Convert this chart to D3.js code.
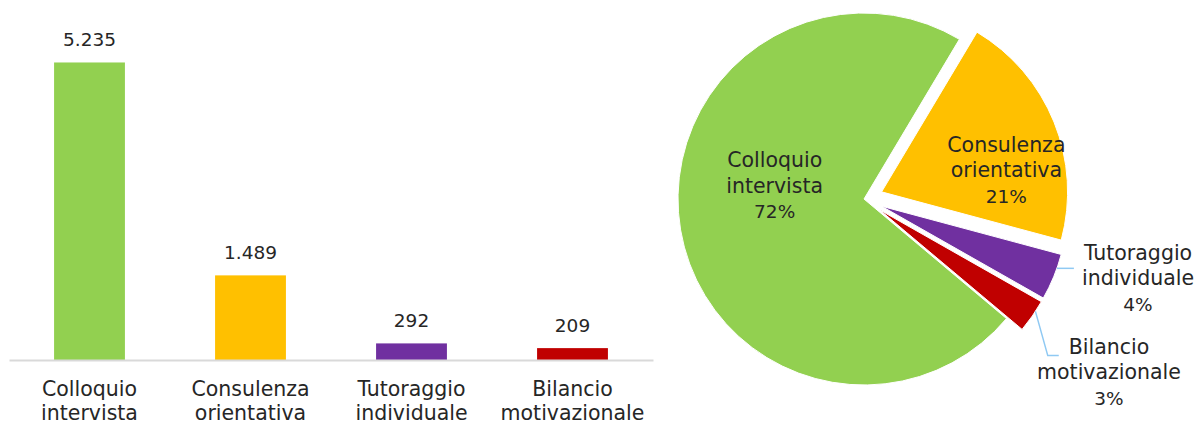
<!DOCTYPE html>
<html lang="it">
<head>
<meta charset="utf-8">
<title>Servizi erogati</title>
<script src="https://cdn.jsdelivr.net/npm/d3@7"></script>
<style>
  html, body { margin: 0; padding: 0; background: #fff; }
  svg { display: block; font-family: 'DejaVu Sans', sans-serif; }
  .lbl { fill: #262626; font-size: 20.5px; }
  .num { fill: #262626; font-size: 18.5px; }
</style>
</head>
<body>
<svg id="chart" width="1195" height="424"></svg>
<script>
// ── Data ──────────────────────────────────────────────────────────────────────
const categories = ['Colloquio intervista', 'Consulenza orientativa', 'Tutoraggio individuale', 'Bilancio motivazionale'];
const values     = [5235, 1489, 292, 209];
const colors     = ['#92D050', '#FFC000', '#7030A0', '#C00000'];
const yMax       = 6000;

// ── Pie layout (label placement, Excel-style explosion) ───────────────────────
const pieStartDeg    = 130;
const explodePx      = [0, 19, 19, 19];
const labelFactor    = [0.485, 0.78, 1.535, 1.616];
const labelShiftDeg  = [17.5, 11, -6, 0.6];
const hasLeader      = [false, false, true, true];
const leaderShiftDeg = [0, 0, -2.8, -1.7];

(function () {
  'use strict';

  const svg = d3.select('#chart');
  const it  = d3.formatLocale({ decimal: ',', thousands: '.', grouping: [3], currency: ['€', ''] });
  const fmt = it.format(',d');
  const rad = deg => deg * Math.PI / 180;

  // ── Bar chart ───────────────────────────────────────────────────────────────
  const baseY = 360;
  const x = d3.scaleBand().domain(categories).range([9, 653]).paddingInner(0.56).paddingOuter(0.28);
  const y = d3.scaleLinear().domain([0, yMax]).range([baseY, 19]);

  const bars = svg.append('g');

  bars.selectAll('rect')
    .data(values)
    .join('rect')
      .attr('x', (d, i) => x(categories[i]))
      .attr('y', d => y(d))
      .attr('width', x.bandwidth())
      .attr('height', d => baseY - y(d))
      .attr('fill', (d, i) => colors[i]);

  // axis line only — no ticks, labels drawn below as two lines
  const axis = bars.append('g')
    .attr('transform', `translate(0,${baseY})`)
    .call(d3.axisBottom(x).tickSize(0).tickFormat(''));
  axis.select('.domain').attr('stroke', '#d9d9d9').attr('stroke-width', 2);

  bars.selectAll('text.value')
    .data(values)
    .join('text')
      .attr('class', 'value num')
      .attr('x', (d, i) => x(categories[i]) + x.bandwidth() / 2)
      .attr('y', d => y(d) - 16.5)
      .attr('text-anchor', 'middle')
      .text(d => fmt(d));

  categories.forEach(c => {
    const t = bars.append('text')
      .attr('class', 'lbl')
      .attr('text-anchor', 'middle');
    c.split(' ').forEach((w, j) => {
      t.append('tspan')
        .attr('x', x(c) + x.bandwidth() / 2)
        .attr('y', baseY + 36 + j * 23.5)
        .text(w);
    });
  });

  // ── Pie chart ───────────────────────────────────────────────────────────────
  const cx = 864, cy = 199, r = 186;
  const total = d3.sum(values);

  const pie = d3.pie().sort(null)
    .startAngle(rad(pieStartDeg))
    .endAngle(rad(pieStartDeg + 360));
  const arcs = pie(values);
  const arc  = d3.arc().innerRadius(0).outerRadius(r);
  const mid  = a => (a.startAngle + a.endAngle) / 2;

  const g = svg.append('g').attr('transform', `translate(${cx},${cy})`);

  g.selectAll('path')
    .data(arcs)
    .join('path')
      .attr('transform', (a, i) => `translate(${Math.sin(mid(a)) * explodePx[i]},${-Math.cos(mid(a)) * explodePx[i]})`)
      .attr('d', arc)
      .attr('fill', (a, i) => colors[i])
      .attr('stroke', '#fff')
      .attr('stroke-width', 1);

  const line = d3.line();

  arcs.forEach((a, i) => {
    const th  = mid(a) + rad(labelShiftDeg[i]);
    const lr  = r * labelFactor[i];
    const lx  = Math.sin(th) * lr;
    const ly  = -Math.cos(th) * lr;
    const pct = Math.round(values[i] / total * 100) + '%';
    const lines = categories[i].split(' ').concat([pct]);

    const t = g.append('text').attr('text-anchor', 'middle');
    lines.forEach((s, j) => {
      t.append('tspan')
        .attr('class', j === 2 ? 'num' : 'lbl')
        .attr('x', lx)
        .attr('y', ly + 6 + (j - 1) * 25.5)
        .text(s);
    });

    if (!hasLeader[i]) return;

    // leader: from slice edge, optional elbow, to left of first label line
    const first = t.select('tspan').node();
    const left  = lx - first.getComputedTextLength() / 2;
    const la    = mid(a) + rad(leaderShiftDeg[i]);
    const ox    = Math.sin(mid(a)) * explodePx[i], oy = -Math.cos(mid(a)) * explodePx[i];
    const sx    = ox + Math.sin(la) * r, sy = oy - Math.cos(la) * r;
    const ex    = left - 10;
    const ey    = Math.max(sy, ly + 6 - 25.5 + 2);
    const pts   = ey - sy > 1 ? [[sx, sy], [ex - 11, ey], [ex, ey]] : [[sx, sy], [ex, sy]];

    g.append('path')
      .attr('d', line(pts))
      .attr('fill', 'none')
      .attr('stroke', '#8fc9f3')
      .attr('stroke-width', 1.5);
  });
})();
</script>
</body>
</html>
